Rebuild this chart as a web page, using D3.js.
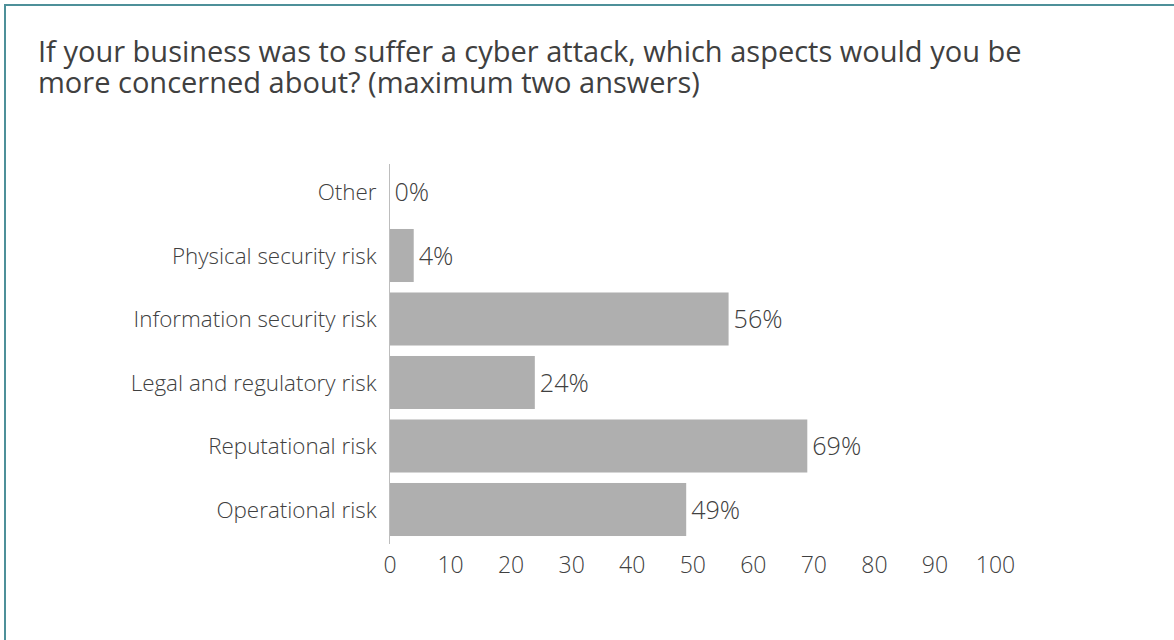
<!DOCTYPE html>
<html>
<head>
<meta charset="utf-8">
<script src="https://cdn.jsdelivr.net/npm/d3@7"></script>
<style>
  html, body { margin: 0; padding: 0; background: #ffffff; }
  svg { display: block; }
  text { font-family: "Open Sans", "Lato", sans-serif; font-weight: 300; fill: #404040; }
</style>
</head>
<body>
<svg id="chart" width="1174" height="640"></svg>
<script>
// Survey answers, listed top to bottom
const categories = [
  "Other",
  "Physical security risk",
  "Information security risk",
  "Legal and regulatory risk",
  "Reputational risk",
  "Operational risk"
];
const values = [0, 4, 56, 24, 69, 49];
const tickValues = [0, 10, 20, 30, 40, 50, 60, 70, 80, 90, 100];
const titleLines = [
  "If your business was to suffer a cyber attack, which aspects would you be",
  "more concerned about? (maximum two answers)"
];

const svg = d3.select("#chart");

// scale a group of texts so that a reference text reaches the wanted width
function fitWidth(sel, refNode, width, base) {
  const w = refNode.getComputedTextLength();
  sel.attr("font-size", base * width / w);
}

// Frame: teal rule along the top and left edges
svg.append("line").attr("x1", 4).attr("x2", 1174).attr("y1", 5).attr("y2", 5)
  .attr("stroke", "#4e9099").attr("stroke-width", 2);
svg.append("line").attr("x1", 5).attr("x2", 5).attr("y1", 4).attr("y2", 640)
  .attr("stroke", "#4e9099").attr("stroke-width", 2);

// Title, two lines in one text block
const title = svg.append("text")
  .attr("x", 38).attr("y", 62)
  .attr("font-size", 26)
  .style("font-weight", 400);
title.selectAll("tspan").data(titleLines).join("tspan")
  .attr("x", 38)
  .attr("y", (d, i) => 62 + i * 31)
  .text(d => d);
fitWidth(title, title.select("tspan").node(), 984, 26);

const x = d3.scaleLinear().domain([0, 100]).range([389.5, 995]);
const y = d3.scaleBand().domain(categories).range([160.25, 541.25])
  .paddingInner(0.165).paddingOuter(0.0825);

const data = categories.map((c, i) => ({ c, v: values[i] }));

// Bars
svg.append("g").selectAll("rect").data(data).join("rect")
  .attr("x", x(0))
  .attr("y", d => y(d.c))
  .attr("width", d => x(d.v) - x(0))
  .attr("height", y.bandwidth())
  .attr("fill", "#afafaf");

// Vertical category axis line
svg.append("line")
  .attr("x1", x(0)).attr("x2", x(0))
  .attr("y1", 164).attr("y2", 544)
  .attr("stroke", "#bdbdbd").attr("stroke-width", 1);

// Category labels
const catText = svg.append("g").selectAll("text").data(data).join("text")
  .attr("x", x(0) - 13)
  .attr("y", d => y(d.c) + y.bandwidth() / 2)
  .attr("dy", "0.36em")
  .attr("text-anchor", "end")
  .attr("font-size", 19)
  .text(d => d.c);
fitWidth(catText, catText.nodes()[2], 243, 19);

// Value labels
const valText = svg.append("g").selectAll("text").data(data).join("text")
  .attr("x", d => x(d.v) + 5)
  .attr("y", d => y(d.c) + y.bandwidth() / 2)
  .attr("dy", "0.36em")
  .attr("font-size", 19)
  .text(d => d.v + "%");
fitWidth(valText, valText.nodes()[2], 49, 19);

// Horizontal value axis (labels only)
const xAxis = d3.axisBottom(x).tickValues(tickValues).tickSize(0).tickPadding(0)
  .tickFormat(d3.format("d"));
const axG = svg.append("g").attr("transform", "translate(0,556)").call(xAxis);
axG.select(".domain").remove();
axG.attr("font-family", null).attr("font-size", null);
axG.selectAll("text")
  .attr("font-size", 23)
  .attr("fill", "#404040")
  .attr("dy", "0.74em");
</script>
</body>
</html>
